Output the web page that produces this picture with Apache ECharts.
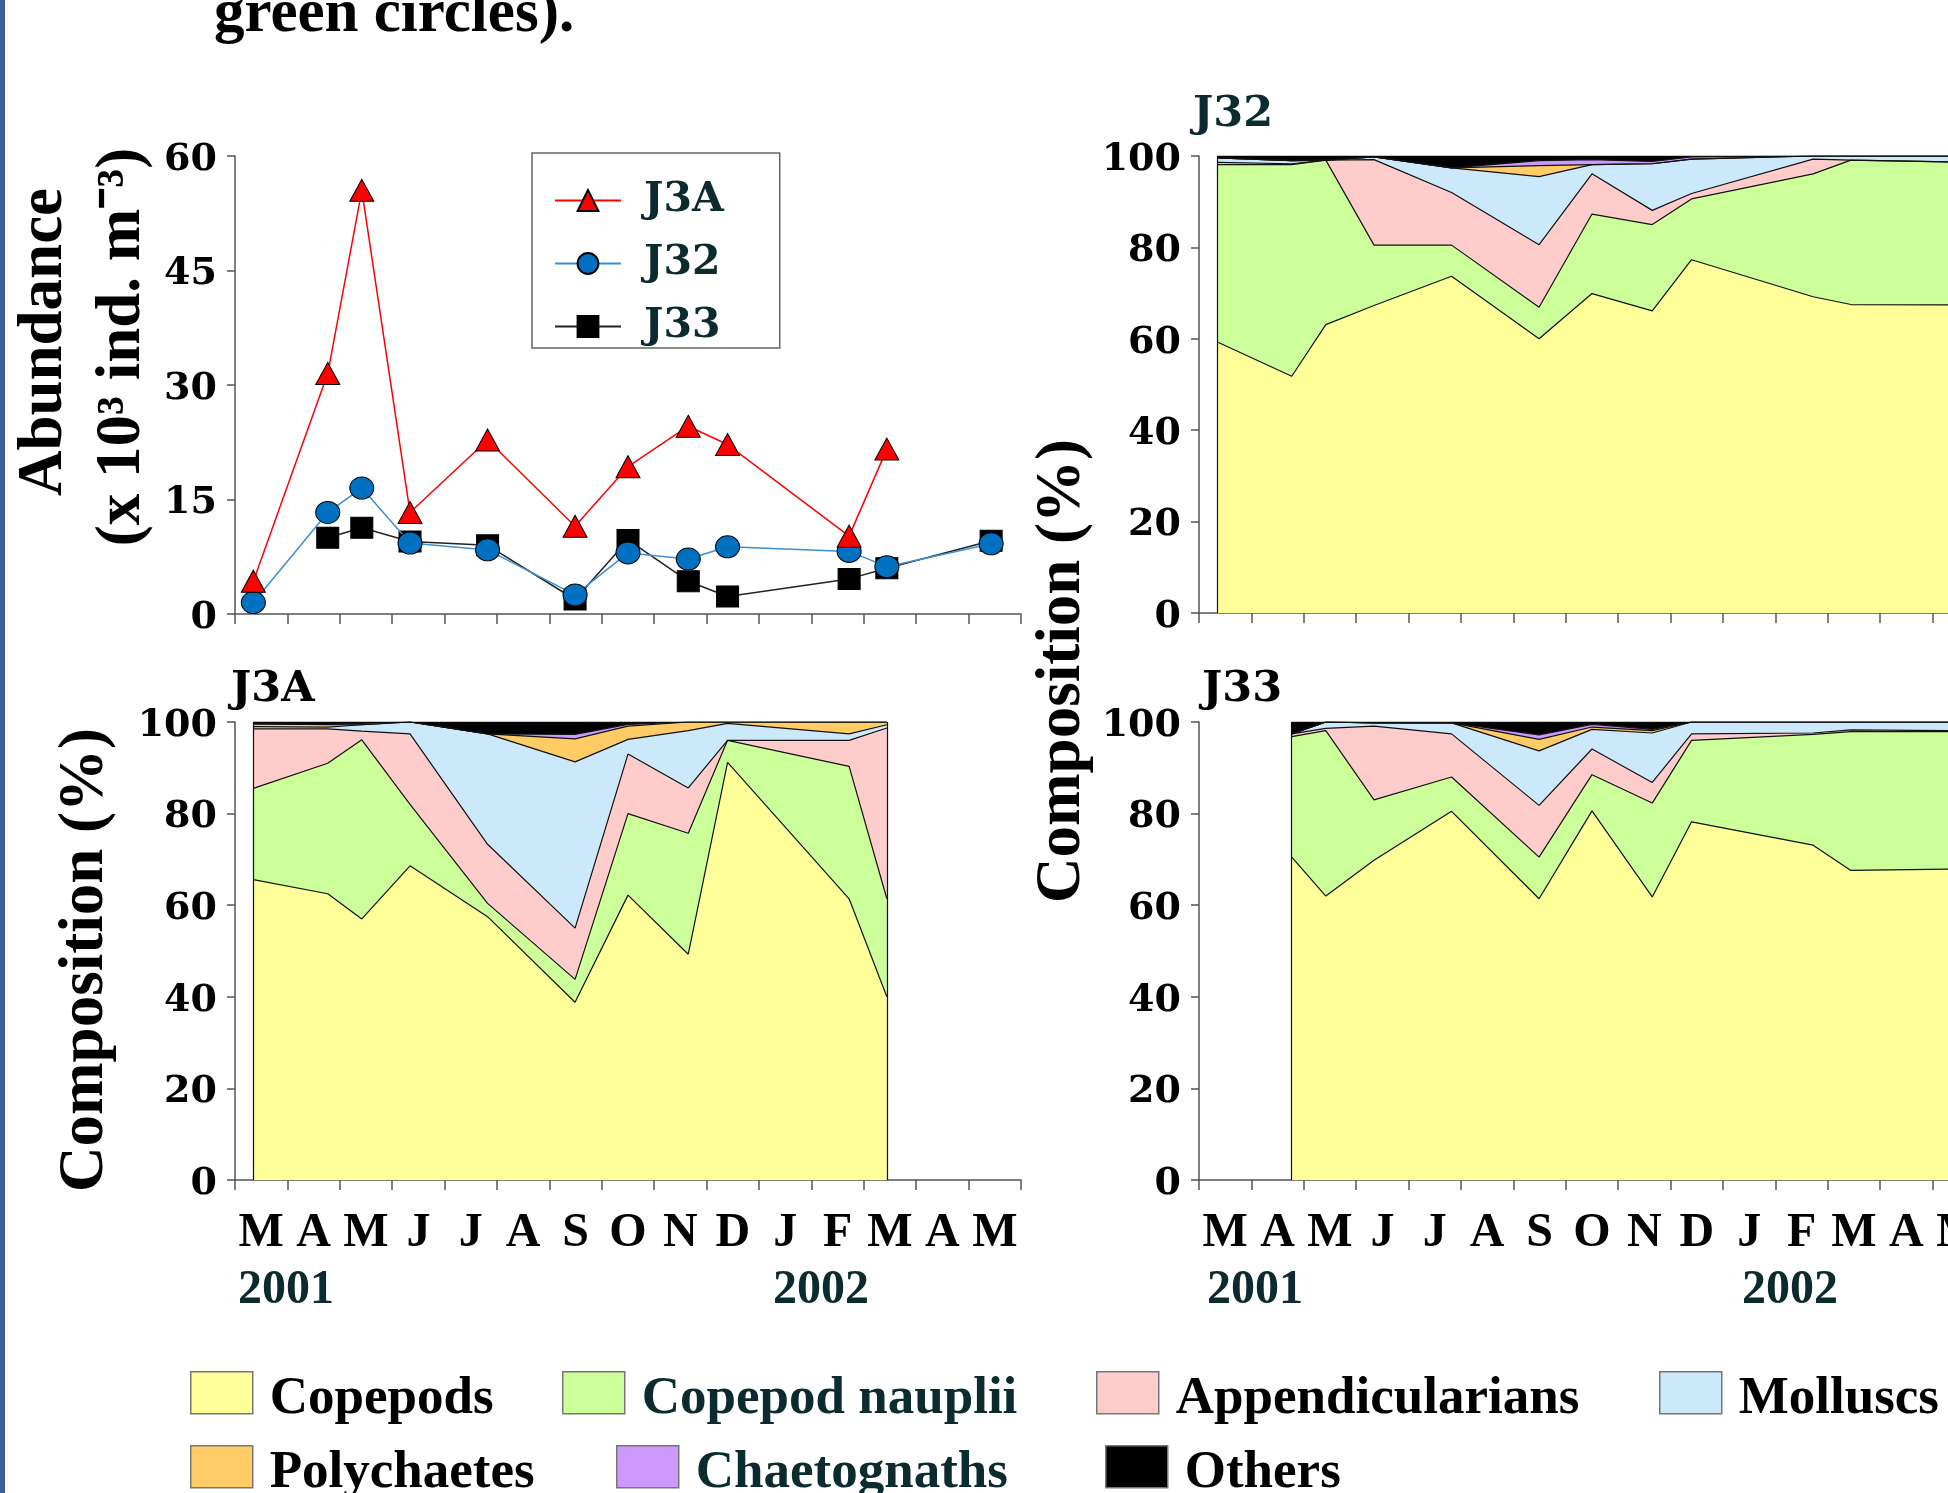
<!DOCTYPE html>
<html>
<head>
<meta charset="utf-8">
<script src="https://cdn.jsdelivr.net/npm/echarts@6.0.0/dist/echarts.min.js"></script>
<style>
html,body{margin:0;padding:0;background:#ffffff;}
#c{width:1948px;height:1493px;}
</style>
</head>
<body>
<div id="c"></div>
<script>
// ---------- DATA ----------
const months = ['M','A','M','J','J','A','S','O','N','D','J','F','M','A','M'];
const years = ['2001', '2002'];

// Sampling dates (months since start of March 2001)
const datesJ3A = [0.35, 1.77, 2.42, 3.34, 4.82, 6.49, 7.5, 8.65, 9.4, 11.72, 12.44];
const datesJ32 = [0.35, 1.77, 2.42, 3.34, 4.82, 6.49, 7.5, 8.65, 9.4, 11.72, 12.44, 14.43];
const datesJ33 = [1.77, 2.42, 3.34, 4.82, 6.49, 7.5, 8.65, 9.4, 11.72, 12.44, 14.43];

// Abundance (x 10^3 ind. m^-3)
const abundJ3A = [4.3, 31.5, 55.5, 13.3, 22.8, 11.5, 19.3, 24.6, 22.2, 10.2, 21.6];
const abundJ32 = [1.5, 13.3, 16.5, 9.3, 8.4, 2.5, 8.0, 7.2, 8.8, 8.2, 6.2, 9.2];
const abundJ33 = [10.0, 11.3, 9.5, 9.0, 1.9, 9.7, 4.3, 2.3, 4.6, 6.0, 9.6];

// Composition (%) J3A
const j3aCopepods  = [65.6, 62.5, 57.0, 68.6, 57.5, 38.8, 62.2, 49.3, 91.2, 61.4, 40.0];
const j3aNauplii   = [19.9, 28.5, 39.1, 13.4, 2.9, 5.0, 17.8, 26.4, 4.8, 28.9, 21.4];
const j3aAppend    = [13.0, 7.5, 1.9, 15.4, 12.9, 11.2, 13.0, 9.9, 0.0, 5.7, 37.3];
const j3aMolluscs  = [0.5, 0.4, 1.4, 2.6, 24.1, 36.3, 3.2, 12.5, 3.7, 1.4, 0.7];
const j3aPolych    = [0.6, 0.5, 0.0, 0.0, 0.0, 5.0, 2.9, 1.9, 0.3, 2.6, 0.6];
const j3aChaeto    = [0.0, 0.1, 0.3, 0.0, 0.0, 1.0, 0.4, 0.0, 0.0, 0.0, 0.0];
const j3aOthers    = [0.4, 0.5, 0.3, 0.0, 2.6, 2.7, 0.5, 0.0, 0.0, 0.0, 0.0];

// Composition (%) J32
const j32Copepods  = [59.3, 51.8, 63.1, 67.3, 73.7, 60.0, 69.9, 66.1, 77.3, 69.2, 67.5, 67.4];
const j32Nauplii   = [38.8, 46.3, 36.0, 13.2, 6.8, 6.9, 17.4, 18.9, 13.3, 26.9, 31.6, 31.3];
const j32Append    = [0.5, 0.2, 0.0, 18.7, 11.5, 13.7, 8.8, 3.1, 1.2, 3.2, 0.0, 0.0];
const j32Molluscs  = [1.0, 0.7, 0.0, 0.6, 5.4, 14.9, 2.0, 10.2, 7.5, 0.7, 0.9, 1.3];
const j32Polych    = [0.0, 0.0, 0.0, 0.0, 0.0, 2.4, 0.0, 0.0, 0.0, 0.0, 0.0, 0.0];
const j32Chaeto    = [0.0, 0.0, 0.0, 0.0, 0.0, 1.1, 1.1, 0.5, 0.5, 0.0, 0.0, 0.0];
const j32Others    = [0.4, 1.0, 0.9, 0.2, 2.6, 1.0, 0.8, 1.2, 0.2, 0.0, 0.0, 0.0];

// Composition (%) J33
const j33Copepods  = [70.5, 62.0, 69.8, 80.5, 61.4, 80.6, 61.8, 78.2, 73.1, 67.6, 67.9];
const j33Nauplii   = [26.3, 36.1, 13.2, 7.5, 9.1, 7.9, 20.5, 17.8, 24.2, 30.3, 30.0];
const j33Append    = [0.6, 0.5, 16.1, 9.4, 11.3, 5.6, 4.5, 1.4, 0.3, 0.4, 0.2];
const j33Molluscs  = [0.0, 1.4, 0.7, 2.4, 11.9, 4.3, 10.8, 2.6, 2.4, 1.7, 1.9];
const j33Polych    = [0.0, 0.0, 0.0, 0.0, 2.5, 0.5, 0.5, 0.0, 0.0, 0.0, 0.0];
const j33Chaeto    = [0.0, 0.0, 0.0, 0.0, 1.0, 0.6, 0.3, 0.0, 0.0, 0.0, 0.0];
const j33Others    = [2.6, 0.0, 0.2, 0.2, 2.8, 0.5, 1.6, 0.0, 0.0, 0.0, 0.0];

const layerNames  = ['Copepods','Copepod nauplii','Appendicularians','Molluscs','Polychaetes','Chaetognaths','Others'];
const layerColors = ['#ffff99','#ccff99','#ffcccc','#cce9fc','#ffcc66','#cc99ff','#000000'];
const layerTextColors = ['#000000','#0b2b2e','#000000','#000000','#000000','#0b2b2e','#000000'];

// ---------- STYLE HELPERS ----------
const AX = '#555555';
const serif = 'Liberation Serif';
const wideSerif = 'DejaVu Serif';

const grids = [
  {left:235,  top:156, width:786, height:458},   // abundance
  {left:1199, top:156, width:786, height:457},   // J32
  {left:235,  top:722, width:786, height:458},   // J3A
  {left:1199, top:722, width:786, height:458}    // J33
].map(g => Object.assign({outerBoundsMode:'none', containLabel:false}, g));

const xAxes = [];
const yAxes = [];
grids.forEach((g, i) => {
  xAxes.push({type:'value', gridIndex:i, min:0, max:15, show:false});
  xAxes.push({
    type:'category', gridIndex:i, data:months, boundaryGap:true, position:'bottom',
    axisLine:{show:true, onZero:false, lineStyle:{color:AX, width:1.5}},
    axisTick:{show:true, interval:0, length:10, inside:false, alignWithLabel:false, lineStyle:{color:AX, width:1.5}},
    axisLabel:{show: i >= 2, interval:0, margin:30, fontFamily:serif, fontWeight:'bold', fontSize:48, color:'#000'},
    splitLine:{show:false}
  });
  yAxes.push({
    type:'value', gridIndex:i, min:0, max: i === 0 ? 60 : 100, interval: i === 0 ? 15 : 20,
    axisLine:{show:true, lineStyle:{color:AX, width:1.5}},
    axisTick:{show:true, length:8, inside:false, lineStyle:{color:AX, width:1.5}},
    axisLabel:{show:true, margin:18, formatter:'{v|{value}}',
      fontFamily:wideSerif, fontWeight:'bold', fontSize:38, color:'#000',
      rich:{v:{fontFamily:wideSerif, fontWeight:'bold', fontSize:38, color:'#000', padding:[8,0,0,0]}}},
    splitLine:{show:false}
  });
});

// Stacked composition: cumulative tops are summed from the layer arrays,
// each layer filled down to 0 and painted from the top layer to the bottom one.
function stackSeries(gridIdx, xs, layers) {
  const cum = [];
  let run = xs.map(() => 0);
  layers.forEach(vals => {
    run = run.map((r, k) => Math.min(100, +(r + vals[k]).toFixed(3)));
    cum.push(run.slice());
  });
  const out = [];
  for (let i = layers.length - 1; i >= 0; i--) {
    out.push({
      type:'line', name:layerNames[i], xAxisIndex:gridIdx*2, yAxisIndex:gridIdx,
      data: xs.map((x, k) => [x, cum[i][k]]),
      symbol:'none', showSymbol:false, smooth:false, silent:true,
      lineStyle:{color:'#111', width:1.2},
      areaStyle:{color:layerColors[i], opacity:1},
      itemStyle:{color:layerColors[i]},
      emphasis:{disabled:true}, z:2
    });
  }
  // vertical edges of the filled block at first and last sample
  out[out.length - 1].markLine = {
    silent:true, symbol:'none', label:{show:false}, animation:false,
    lineStyle:{color:'#111', width:1.2, type:'solid'},
    data:[
      [{coord:[xs[0], 0]}, {coord:[xs[0], 100]}],
      [{coord:[xs[xs.length-1], 0]}, {coord:[xs[xs.length-1], 100]}]
    ]
  };
  return out;
}

const series = [
  {type:'line', name:'J33', xAxisIndex:0, yAxisIndex:0, data: datesJ33.map((x,k)=>[x, abundJ33[k]]),
   symbol:'rect', symbolSize:[22,21], lineStyle:{color:'#222', width:1.5},
   itemStyle:{color:'#000', borderColor:'#000', borderWidth:1}, z:3},
  {type:'line', name:'J32', xAxisIndex:0, yAxisIndex:0, data: datesJ32.map((x,k)=>[x, abundJ32[k]]),
   symbol:'circle', symbolSize:[24,22], lineStyle:{color:'#3b8fd4', width:1.5},
   itemStyle:{color:'#0070c0', borderColor:'#000', borderWidth:1}, z:4},
  {type:'line', name:'J3A', xAxisIndex:0, yAxisIndex:0, data: datesJ3A.map((x,k)=>[x, abundJ3A[k]]),
   symbol:'triangle', symbolSize:[24,22], lineStyle:{color:'#ff0000', width:1.5},
   itemStyle:{color:'#ff0000', borderColor:'#000', borderWidth:1}, z:5}
].concat(
  stackSeries(1, datesJ32, [j32Copepods, j32Nauplii, j32Append, j32Molluscs, j32Polych, j32Chaeto, j32Others]),
  stackSeries(2, datesJ3A, [j3aCopepods, j3aNauplii, j3aAppend, j3aMolluscs, j3aPolych, j3aChaeto, j3aOthers]),
  stackSeries(3, datesJ33, [j33Copepods, j33Nauplii, j33Append, j33Molluscs, j33Polych, j33Chaeto, j33Others])
);

// Bottom legend: one single-item legend per entry so each sits where the reference has it
const legendSlots = [
  {i:0, left:190,  top:1371}, {i:1, left:562,  top:1371}, {i:2, left:1096, top:1371}, {i:3, left:1659, top:1371},
  {i:4, left:190,  top:1445}, {i:5, left:616,  top:1445}, {i:6, left:1105, top:1445}
];
const layerLegends = legendSlots.map(s => ({
  data:[{name:layerNames[s.i], itemStyle:{color:layerColors[s.i], borderColor:'#777', borderWidth:1.5}}],
  orient:'horizontal', left:s.left, top:s.top, padding:0,
  itemWidth:62, itemHeight:42, icon:'rect', selectedMode:false,
  formatter:'{t|{name}}',
  textStyle:{fontFamily:serif, fontWeight:'bold', fontSize:53, color:layerTextColors[s.i],
    rich:{t:{fontFamily:serif, fontWeight:'bold', fontSize:53, color:layerTextColors[s.i], padding:[13,0,0,12]}}}
}));

const graphicEls = [
  {type:'rect', left:0, top:0, shape:{x:0, y:0, width:5, height:1493}, style:{fill:'#3c5f94'}, silent:true},
  {type:'text', x:214, y:15, style:{text:'green circles).', fontFamily:serif, fontWeight:'bold', fontSize:61, fill:'#000', textAlign:'left', textVerticalAlign:'middle'}},
  {type:'text', x:45, y:342, rotation:Math.PI/2, style:{text:'Abundance', fontFamily:serif, fontWeight:'bold', fontSize:63, fill:'#000', textAlign:'center', textVerticalAlign:'middle'}},
  {type:'text', x:123, y:347, rotation:Math.PI/2, style:{text:'(x 10\u00b3 ind. m\u207b\u00b3)', fontFamily:serif, fontWeight:'bold', fontSize:63, fill:'#000', textAlign:'center', textVerticalAlign:'middle'}},
  {type:'text', x:86, y:960, rotation:Math.PI/2, style:{text:'Composition (%)', fontFamily:serif, fontWeight:'bold', fontSize:63, fill:'#000', textAlign:'center', textVerticalAlign:'middle'}},
  {type:'text', x:1063, y:671, rotation:Math.PI/2, style:{text:'Composition (%)', fontFamily:serif, fontWeight:'bold', fontSize:63, fill:'#000', textAlign:'center', textVerticalAlign:'middle'}},
  {type:'text', x:1193, y:115, style:{text:'J32', fontFamily:wideSerif, fontWeight:'bold', fontSize:43, fill:'#0b2b2e', textAlign:'left', textVerticalAlign:'middle'}},
  {type:'text', x:231, y:690, style:{text:'J3A', fontFamily:wideSerif, fontWeight:'bold', fontSize:43, fill:'#000', textAlign:'left', textVerticalAlign:'middle'}},
  {type:'text', x:1202, y:690, style:{text:'J33', fontFamily:wideSerif, fontWeight:'bold', fontSize:43, fill:'#000', textAlign:'left', textVerticalAlign:'middle'}},
  {type:'text', x:238, y:1291, style:{text:years[0], fontFamily:serif, fontWeight:'bold', fontSize:48, fill:'#0b2b2e', textAlign:'left', textVerticalAlign:'middle'}},
  {type:'text', x:773, y:1291, style:{text:years[1], fontFamily:serif, fontWeight:'bold', fontSize:48, fill:'#0b2b2e', textAlign:'left', textVerticalAlign:'middle'}},
  {type:'text', x:1207, y:1291, style:{text:years[0], fontFamily:serif, fontWeight:'bold', fontSize:48, fill:'#0b2b2e', textAlign:'left', textVerticalAlign:'middle'}},
  {type:'text', x:1742, y:1291, style:{text:years[1], fontFamily:serif, fontWeight:'bold', fontSize:48, fill:'#0b2b2e', textAlign:'left', textVerticalAlign:'middle'}}
];

const option = {
  animation:false,
  backgroundColor:'#ffffff',
  grid: grids,
  xAxis: xAxes,
  yAxis: yAxes,
  legend: [
    {
      data:['J3A','J32','J33'], orient:'vertical', left:532, top:153,
      padding:[27,56,1,22], itemGap:22, itemWidth:66, itemHeight:26,
      backgroundColor:'#fff', borderColor:'#666', borderWidth:1.5, borderRadius:0,
      selectedMode:false,
      textStyle:{fontFamily:wideSerif, fontWeight:'bold', fontSize:41, color:'#0b2b2e', lineHeight:40, padding:[0,0,0,18]}
    }
  ].concat(layerLegends),
  graphic: graphicEls,
  series: series
};

const chart = echarts.init(document.getElementById('c'), null, {renderer:'canvas', width:1948, height:1493});
chart.setOption(option);
</script>
</body>
</html>
